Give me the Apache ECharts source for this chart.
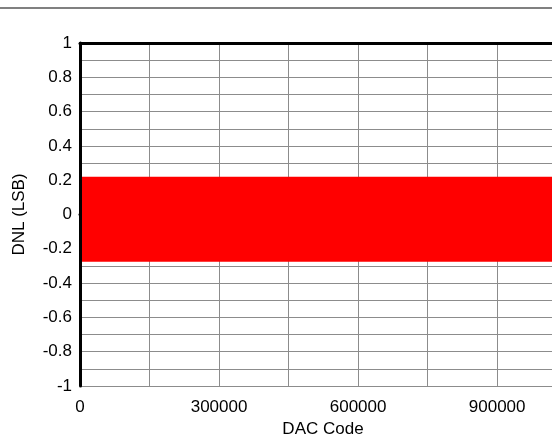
<!DOCTYPE html>
<html>
<head>
<meta charset="utf-8">
<script src="https://cdn.jsdelivr.net/npm/echarts@6/dist/echarts.min.js"></script>
<style>
html,body{margin:0;padding:0;background:#fff;}
#chart{width:552px;height:434px;}
</style>
</head>
<body>
<div id="chart"></div>
<script>
// DAC codes sampled along the trace (envelope of the dense DNL data)
var dacCodes = [0, 150000, 300000, 450000, 600000, 750000, 900000, 1048575];
// Upper envelope of DNL (LSB)
var dnlUpper = [0.22, 0.22, 0.22, 0.22, 0.22, 0.22, 0.22, 0.22];
// Lower envelope of DNL (LSB)
var dnlLower = [-0.275, -0.275, -0.275, -0.275, -0.275, -0.275, -0.275, -0.275];
var xTickLabels = ['0', '300000', '600000', '900000'];
var yTickLabels = ['1', '0.8', '0.6', '0.4', '0.2', '0', '-0.2', '-0.4', '-0.6', '-0.8', '-1'];

var FONT = "'Liberation Sans', Arial, sans-serif";
var chart = echarts.init(document.getElementById('chart'), null, {renderer: 'canvas'});

function pairs(ys) { return dacCodes.map(function (c, i) { return [c, ys[i]]; }); }

var option = {
  animation: false,
  backgroundColor: '#ffffff',
  textStyle: {fontFamily: FONT},
  grid: {left: 80, top: 43, right: -14, bottom: 48, containLabel: false, outerBoundsMode: 'none'},
  graphic: [{
    type: 'rect', left: 0, top: 7, shape: {width: 552, height: 2},
    style: {fill: '#808080'}, silent: true
  }],
  xAxis: [{
    type: 'value', min: 0, max: 1048575, interval: 150000,
    name: 'DAC Code', nameLocation: 'middle', nameGap: 31,
    nameTextStyle: {fontFamily: FONT, fontSize: 17, color: '#000'},
    axisLine: {show: true, lineStyle: {color: '#000', width: 3}},
    axisTick: {show: false},
    axisLabel: {
      fontFamily: FONT, fontSize: 17, color: '#000', margin: 13,
      showMaxLabel: false,
      formatter: function (v) {
        var s = String(v);
        return xTickLabels.indexOf(s) >= 0 ? s : '';
      }
    },
    splitLine: {show: true, lineStyle: {color: '#8c8c8c', width: 1}}
  }, {
    type: 'value', min: 0, max: 1048575, position: 'top', z: 10,
    axisLine: {show: true, onZero: false, lineStyle: {color: '#000', width: 3}},
    axisTick: {show: false}, axisLabel: {show: false}, splitLine: {show: false}
  }],
  yAxis: [{
    type: 'value', min: -1, max: 1, interval: 0.2,
    name: 'DNL (LSB)', nameLocation: 'middle', nameGap: 52,
    nameTextStyle: {fontFamily: FONT, fontSize: 17, color: '#000'},
    axisLine: {show: false},
    axisTick: {show: false},
    axisLabel: {
      fontFamily: FONT, fontSize: 17, color: '#000', margin: 8,
      formatter: function (v) {
        var s = String(Math.round(v * 10) / 10);
        return yTickLabels.indexOf(s) >= 0 ? s : '';
      }
    },
    splitLine: {show: true, lineStyle: {color: '#8c8c8c', width: 1}},
    minorTick: {show: false, splitNumber: 2},
    minorSplitLine: {show: true, lineStyle: {color: '#8c8c8c', width: 1}}
  }, {
    type: 'value', min: -1, max: 1, position: 'left', z: 10,
    axisLine: {show: true, onZero: false, lineStyle: {color: '#000', width: 3}},
    axisTick: {show: false}, axisLabel: {show: false}, splitLine: {show: false}
  }],
  series: [{
    type: 'line', name: 'DNL max', xAxisIndex: 0, yAxisIndex: 0,
    data: pairs(dnlUpper), showSymbol: false, symbol: 'none',
    lineStyle: {width: 0, color: '#ff0000'},
    areaStyle: {color: '#ff0000', opacity: 1, origin: -0.1},
    z: 2
  }, {
    type: 'line', name: 'DNL min', xAxisIndex: 0, yAxisIndex: 0,
    data: pairs(dnlLower), showSymbol: false, symbol: 'none',
    lineStyle: {width: 0, color: '#ff0000'},
    areaStyle: {color: '#ff0000', opacity: 1, origin: 0.1},
    z: 2
  }]
};
chart.setOption(option);
</script>
</body>
</html>
